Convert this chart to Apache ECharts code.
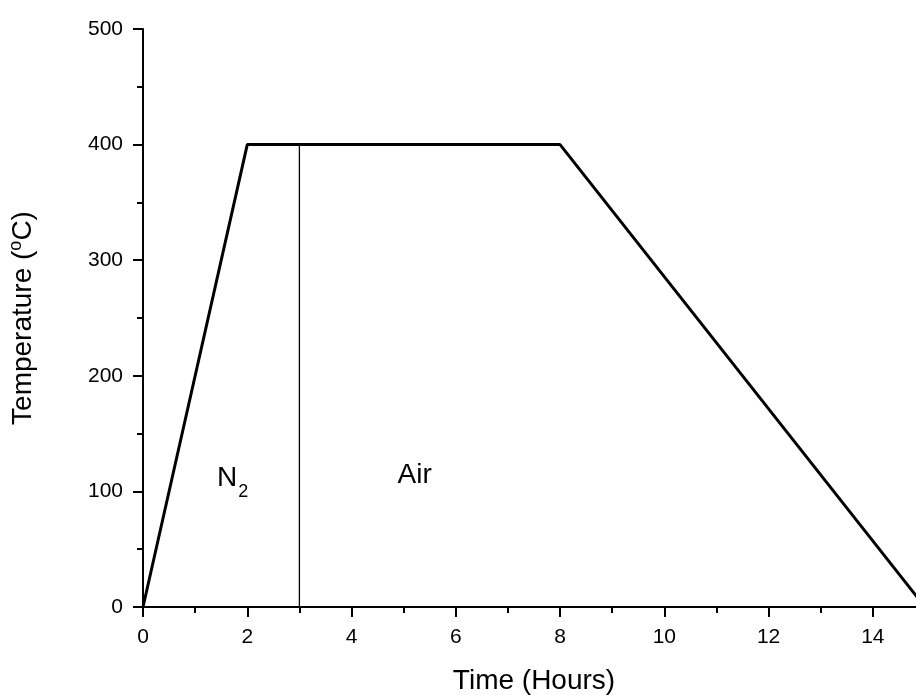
<!DOCTYPE html>
<html>
<head>
<meta charset="utf-8">
<script src="https://cdn.jsdelivr.net/npm/echarts@6/dist/echarts.min.js"></script>
<style>
  html, body { margin: 0; padding: 0; background: #fff; }
  #chart { width: 916px; height: 695px; }
</style>
</head>
<body>
<div id="chart"></div>
<script>
// heating profile
var timeHours = [0, 2, 8, 15];
var tempC = [0, 400, 400, 0];
// switch from N2 to air
var switchTime = [3, 3];
var switchTemp = [0, 400];
// region labels: [x, y, text]
var regionLabels = [
  [1.72, 111, "{t|N}{sub|2}"],
  [5.21, 114, "{t|Air}"]
];
var xTicks = [0, 2, 4, 6, 8, 10, 12, 14];
var yTicks = [0, 100, 200, 300, 400, 500];

var myChart = echarts.init(document.getElementById("chart"));
var font = "'Liberation Sans', Arial, sans-serif";

var option = {
  animation: false,
  backgroundColor: "#fff",
  textStyle: { fontFamily: font, color: "#000" },
  grid: { left: 143, top: 29, bottom: 88, right: -9, outerBoundsMode: "none", containLabel: false },
  xAxis: {
    type: "value",
    min: 0,
    max: 15,
    interval: 2,
    name: "Time (Hours)",
    nameLocation: "middle",
    nameGap: 60,
    nameTextStyle: { fontSize: 28, color: "#000", fontFamily: font },
    splitLine: { show: false },
    axisLine: { lineStyle: { color: "#000", width: 2 } },
    axisTick: { inside: false, length: 10, lineStyle: { color: "#000", width: 2 } },
    minorTick: { show: true, splitNumber: 2, length: 6, lineStyle: { color: "#000", width: 2 } },
    axisLabel: {
      fontSize: 21, color: "#000", margin: 20, fontFamily: font,
      formatter: function (v) { return xTicks.indexOf(v) >= 0 ? String(v) : ""; }
    }
  },
  yAxis: {
    type: "value",
    min: 0,
    max: 500,
    interval: 100,
    name: "Temperature ({sup|o}C)",
    nameLocation: "middle",
    nameGap: 104,
    nameRotate: 90,
    nameTextStyle: {
      fontSize: 28, color: "#000", fontFamily: font,
      rich: { sup: { fontSize: 18, verticalAlign: "top", padding: [0, 0, 14, 0], fontFamily: font } }
    },
    splitLine: { show: false },
    axisLine: { show: true, lineStyle: { color: "#000", width: 2 } },
    axisTick: { show: true, inside: false, length: 10, lineStyle: { color: "#000", width: 2 } },
    minorTick: { show: true, splitNumber: 2, length: 6, lineStyle: { color: "#000", width: 2 } },
    axisLabel: {
      fontSize: 21, color: "#000", margin: 20, fontFamily: font,
      formatter: function (v) { return yTicks.indexOf(v) >= 0 ? String(v) : ""; }
    }
  },
  series: [
    {
      type: "line",
      data: timeHours.map(function (t, i) { return [t, tempC[i]]; }),
      symbol: "none",
      lineStyle: { color: "#000", width: 3 },
      markPoint: {
        symbol: "circle",
        symbolSize: 0,
        label: {
          show: true,
          position: "inside",
          formatter: function (p) { return p.data.text; },
          rich: {
            t: { fontSize: 28, lineHeight: 28, color: "#000", fontFamily: font, verticalAlign: "top" },
            sub: { fontSize: 18, lineHeight: 18, color: "#000", fontFamily: font, verticalAlign: "top", padding: [18, 0, 0, 1] }
          }
        },
        data: regionLabels.map(function (r) { return { coord: [r[0], r[1]], text: r[2] }; })
      }
    },
    {
      type: "line",
      data: switchTime.map(function (t, i) { return [t, switchTemp[i]]; }),
      symbol: "none",
      lineStyle: { color: "#000", width: 1.3 }
    }
  ]
};
myChart.setOption(option);
window.addEventListener("resize", function () {
  myChart.resize();
});
</script>
</body>
</html>
